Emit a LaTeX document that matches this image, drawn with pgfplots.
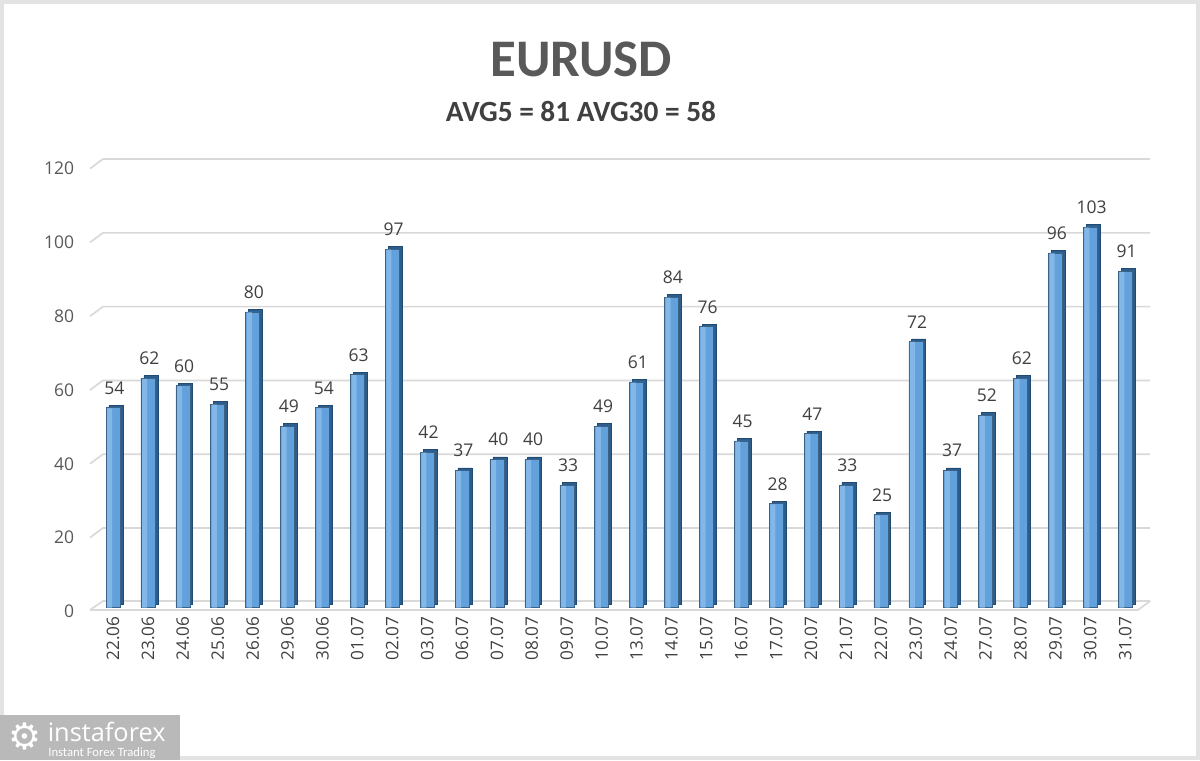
\documentclass[border=0pt]{standalone}
\usepackage{pgfplots}
\pgfplotsset{compat=1.18}
\usepackage{fontspec}
\setmainfont{Open Sans}
\newfontfamily\carlito{Carlito}
\newfontfamily\dejavu{DejaVu Sans}
\definecolor{barF}{HTML}{62A1DC}
\definecolor{barHi}{HTML}{82B7E8}
\definecolor{barSide}{HTML}{2B5E8F}
\definecolor{gridc}{HTML}{D9D9D9}
\definecolor{titlec}{HTML}{595959}
\definecolor{subc}{HTML}{404040}
\begin{document}
\begin{tikzpicture}
\path[fill=white] (0,0) rectangle (720pt,456pt);
\draw[gray!22, line width=2.2pt] (1.1pt,1.1pt) rectangle (718.9pt,454.9pt);
\node[anchor=base, text=titlec, font=\carlito\bfseries\fontsize{31.7}{36}\selectfont] at (348.6pt,409.8pt) {EURUSD};
\node[anchor=base, text=subc, font=\carlito\bfseries\fontsize{17.6}{20}\selectfont] at (348.6pt,383pt) {AVG5 = 81 AVG30 = 58};
\begin{axis}[
  at={(54pt,89.6pt)}, anchor=south west,
  scale only axis, width=636pt, height=272.3pt,
  xmin=-0.66, xmax=29.71, ymin=-1, ymax=122,
  axis line style={draw=none}, tick style={draw=none},
  ytick={0,20,...,120},
  xtick={0,...,29},
  xticklabels={22.06,23.06,24.06,25.06,26.06,29.06,30.06,01.07,02.07,03.07,06.07,07.07,08.07,09.07,10.07,13.07,14.07,15.07,16.07,17.07,20.07,21.07,22.07,23.07,24.07,27.07,28.07,29.07,30.07,31.07},
  xticklabel style={rotate=90, anchor=east, text=subc, font=\fontsize{10.3}{12}\selectfont},
  yticklabel style={text=titlec, font=\fontsize{10.5}{12}\selectfont, yshift=-2.7pt, xshift=-6pt},
  /pgf/number format/assume math mode=true,
  clip=false,
]
% floor and gridlines (3D look)
\draw[gridc, line width=1pt] (axis cs:-0.66,-0.8) -- (axis cs:-0.29,1.6) -- (axis cs:29.71,1.6);
\draw[gridc, line width=1pt] (axis cs:-0.66,-0.8) -- (axis cs:29.37,-0.8) -- (axis cs:29.71,1.6);
\draw[gridc, line width=1pt] (axis cs:-0.66,18.8) -- (axis cs:-0.29,21.4) -- (axis cs:29.71,21.4);
\draw[gridc, line width=1pt] (axis cs:-0.66,38.8) -- (axis cs:-0.29,41.4) -- (axis cs:29.71,41.4);
\draw[gridc, line width=1pt] (axis cs:-0.66,58.8) -- (axis cs:-0.29,61.4) -- (axis cs:29.71,61.4);
\draw[gridc, line width=1pt] (axis cs:-0.66,78.8) -- (axis cs:-0.29,81.4) -- (axis cs:29.71,81.4);
\draw[gridc, line width=1pt] (axis cs:-0.66,98.8) -- (axis cs:-0.29,101.4) -- (axis cs:29.71,101.4);
\draw[gridc, line width=1pt] (axis cs:-0.66,118.8) -- (axis cs:-0.29,121.4) -- (axis cs:29.71,121.4);
% side/top of bars
\addplot[ybar, bar width=8.4pt, fill=barSide, draw=barSide!80!black, line width=0.3pt, xshift=1.7pt, yshift=1.5pt] coordinates {
(0,54) (1,62) (2,60) (3,55) (4,80) (5,49) (6,54) (7,63) (8,97) (9,42)
(10,37) (11,40) (12,40) (13,33) (14,49) (15,61) (16,84) (17,76) (18,45) (19,28)
(20,47) (21,33) (22,25) (23,72) (24,37) (25,52) (26,62) (27,96) (28,103) (29,91)};
% front faces
\addplot[ybar, bar width=8.4pt, fill=barF, draw=barF!60!black, line width=0.3pt,
  nodes near coords, nodes near coords style={anchor=south, yshift=4.5pt, xshift=0.8pt, text=subc, font=\fontsize{10.5}{12}\selectfont}] coordinates {
(0,54) (1,62) (2,60) (3,55) (4,80) (5,49) (6,54) (7,63) (8,97) (9,42)
(10,37) (11,40) (12,40) (13,33) (14,49) (15,61) (16,84) (17,76) (18,45) (19,28)
(20,47) (21,33) (22,25) (23,72) (24,37) (25,52) (26,62) (27,96) (28,103) (29,91)};
% highlight on the left part of each front face
\addplot[ybar, bar width=3pt, bar shift=-2pt, fill=barHi, draw=none, yshift=-0.4pt] coordinates {
(0,54) (1,62) (2,60) (3,55) (4,80) (5,49) (6,54) (7,63) (8,97) (9,42)
(10,37) (11,40) (12,40) (13,33) (14,49) (15,61) (16,84) (17,76) (18,45) (19,28)
(20,47) (21,33) (22,25) (23,72) (24,37) (25,52) (26,62) (27,96) (28,103) (29,91)};
\end{axis}
% logo
\fill[white!45!gray] (0,0) rectangle (108pt,27pt);
\node[text=white, font=\dejavu\fontsize{22}{22}\selectfont, inner sep=0pt] at (14.7pt,14pt) {⚙};
\node[anchor=base west, text=white, inner sep=0pt, font=\fontsize{15.2}{16}\selectfont] at (28.5pt,10.9pt) {instaforex};
\node[anchor=base west, text=white, inner sep=0pt, font=\carlito\fontsize{7.6}{8}\selectfont] at (28.8pt,2.2pt) {Instant Forex Trading};
\end{tikzpicture}
\end{document}
